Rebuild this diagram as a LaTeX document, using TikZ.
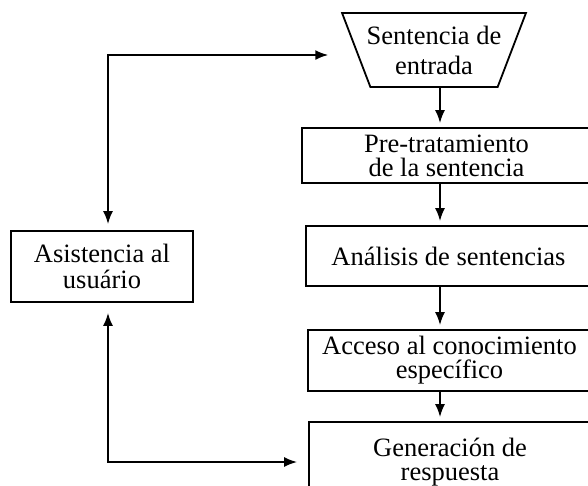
\documentclass[tikz,border=0pt]{standalone}
\usepackage{fontspec}
\setmainfont{Liberation Serif}
\usetikzlibrary{arrows.meta,positioning,shapes.geometric}
\tikzset{
    %Define standard arrow tip
    >={Latex[length=13pt,width=10pt]},
    %Define style for boxes
    stepbox/.style={
             rectangle,
             draw=black, line width=1.8pt,
             align=center, inner sep=0pt,
             font=\fontsize{26.5}{24}\selectfont},
    inputnode/.style={
             trapezium, trapezium stretches=true,
             trapezium angle=64, shape border rotate=180,
             draw=black, line width=1.8pt,
             align=center, inner xsep=-14pt, inner ysep=0pt,
             minimum width=184pt, minimum height=74pt,
             font=\fontsize{26.5}{30}\selectfont},
    % Define arrow style
    flowarrow/.style={
            ->,
            line width=1.8pt,
            shorten >=4pt},
    looparrow/.style={
            <->,
            line width=1.8pt}
}
\begin{document}
\begin{tikzpicture}[x=1pt, y=-1pt]
 \useasboundingbox (0,0) rectangle (588,485);
 \clip (0,0) rectangle (588,485);
 \coordinate (col) at (440,0);
 \coordinate (lc) at (108,0);
 \node[inputnode] (entrada) at (434,50) {Sentencia de\\entrada};
 \node[stepbox, minimum width=289pt, minimum height=55pt] (pretrat) at (446.5,155.5) {Pre-tratamiento\\de la sentencia};
 \node[stepbox, minimum width=285pt, minimum height=60pt] (analisis) at (448.5,256) {Análisis de sentencias};
 \node[stepbox, minimum width=283pt, minimum height=61pt] (acceso) at (449.5,360.5) {Acceso al conocimiento\\específico};
 \node[stepbox, minimum width=282pt, minimum height=80pt] (generacion) at (450,462) {Generación de\\respuesta};
 \node[stepbox, minimum width=182pt, minimum height=71pt, font=\fontsize{26.5}{26}\selectfont] (usuario) at (102,266.5) {Asistencia al\\usuário};
 \draw[flowarrow] (entrada.south -| col) -- (pretrat.north -| col);
 \draw[flowarrow] (pretrat.south -| col) -- (analisis.north -| col);
 \draw[flowarrow] (analisis.south -| col) -- (acceso.north -| col);
 \draw[flowarrow] (acceso.south -| col) -- (generacion.north -| col);
 \draw[looparrow, shorten <=6pt, shorten >=27pt] (usuario.north -| lc) |- ([yshift=-5pt]entrada.west);
 \draw[looparrow, shorten <=10pt, shorten >=11pt] (usuario.south -| lc) |- (generacion.west);
\end{tikzpicture}
\end{document}
